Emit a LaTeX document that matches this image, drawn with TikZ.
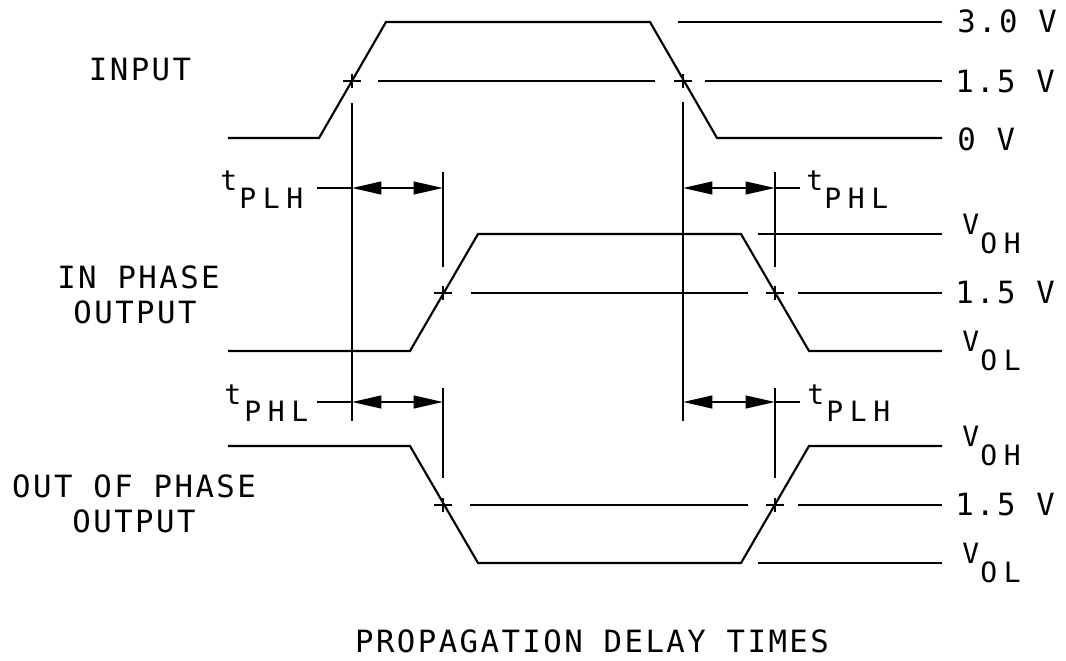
\documentclass[tikz,border=0pt]{standalone}
\usepackage{fontspec}
\usetikzlibrary{arrows.meta}
\newfontfamily\cadmain[LetterSpace=8]{DejaVu Sans Mono}
\newfontfamily\cadsub[LetterSpace=24]{DejaVu Sans Mono}
\newfontfamily\cadbase{DejaVu Sans Mono}
\begin{document}
\begin{tikzpicture}[x=0.75pt,y=-0.75pt,
  wave/.style={line width=1.6pt, line join=miter},
  ln/.style={line width=1.6pt},
  dimarrow/.style={line width=1.6pt,{Triangle[length=22pt,width=9.5pt]}-{Triangle[length=22pt,width=9.5pt]}},
  lbl/.style={inner sep=0pt, anchor=base, font={\cadmain\fontsize{23pt}{25pt}\selectfont}},
  rlbl/.style={inner sep=0pt, anchor=base west, font={\cadmain\fontsize{23pt}{25pt}\selectfont}},
  baselbl/.style={inner sep=0pt, anchor=base west, font={\cadbase\fontsize{21pt}{23pt}\selectfont}},
  sublbl/.style={inner sep=0pt, anchor=base west, font={\cadsub\fontsize{21pt}{23pt}\selectfont}},
  pluscross/.pic={\draw[line width=1.6pt] (-9,0)--(9,0) (0,-7)--(0,7);}
]
\useasboundingbox (0,0) rectangle (1066,660);

% ---------- INPUT ----------
\draw[wave] (228,138)--(319,138)--(386,22)--(650,22)--(717,138)--(942,138);
\draw[ln] (678,22)--(942,22);
\draw[ln] (378,81)--(655,81);
\draw[ln] (705,81)--(942,81);
\pic at (352,81) {pluscross};
\pic at (683,81) {pluscross};

% ---------- IN PHASE OUTPUT ----------
\draw[wave] (228,351)--(410,351)--(478,234)--(741,234)--(809,351)--(942,351);
\draw[ln] (758,234)--(942,234);
\draw[ln] (471,293)--(748,293);
\draw[ln] (798,293)--(942,293);
\pic at (443,293) {pluscross};
\pic at (775,293) {pluscross};

% ---------- OUT OF PHASE OUTPUT ----------
\draw[wave] (228,446)--(410,446)--(478,563)--(741,563)--(809,446)--(942,446);
\draw[ln] (758,563)--(942,563);
\draw[ln] (470,505)--(748,505);
\draw[ln] (798,505)--(942,505);
\pic at (443,505) {pluscross};
\pic at (775,505) {pluscross};

% ---------- reference verticals ----------
\draw[ln] (352,103)--(352,421);
\draw[ln] (683,102)--(683,421);
\draw[ln] (443,172)--(443,267);
\draw[ln] (443,388)--(443,478);
\draw[ln] (775,172)--(775,267);
\draw[ln] (775,388)--(775,478);

% ---------- dimension arrows ----------
\draw[ln] (317,188)--(352,188);
\draw[dimarrow] (352,188)--(443,188);
\draw[ln] (317,402)--(352,402);
\draw[dimarrow] (352,402)--(443,402);
\draw[dimarrow] (683,188)--(775,188);
\draw[ln] (775,188)--(800,188);
\draw[dimarrow] (683,402)--(775,402);
\draw[ln] (775,402)--(800,402);

% ---------- left labels ----------
\node[lbl] (tin) at (140,80) {INPUT};
\node[lbl] (tip1) at (138.5,288) {IN PHASE};
\node[lbl] (tip2) at (135,323) {OUTPUT};
\node[lbl] (top1) at (134,497) {OUT OF PHASE};
\node[lbl] (top2) at (134,532) {OUTPUT};
\node[lbl] (title) at (592,652) {PROPAGATION DELAY TIMES};

% ---------- right labels ----------
\node[rlbl] (l30) at (957,33) {3.0 V};
\node[rlbl] (l15a) at (955,92) {1.5 V};
\node[rlbl] (l0) at (957,150) {0 V};
\node[rlbl] (l15b) at (955,303) {1.5 V};
\node[rlbl] (l15c) at (955,515) {1.5 V};

\node[baselbl] (v1) at (962,234) {V};
\node[sublbl] (v1s) at (980,253) {OH};
\node[baselbl] (v2) at (962,351) {V};
\node[sublbl] (v2s) at (980,370) {OL};
\node[baselbl] (v3) at (962,446) {V};
\node[sublbl] (v3s) at (980,465) {OH};
\node[baselbl] (v4) at (962,563) {V};
\node[sublbl] (v4s) at (980,582) {OL};

% ---------- t labels ----------
\node[baselbl] (t1) at (220,190) {t};
\node[sublbl] (t1s) at (239,208) {PLH};
\node[baselbl] (t2) at (224,404) {t};
\node[sublbl] (t2s) at (244,421) {PHL};
\node[baselbl] (t3) at (806,190) {t};
\node[sublbl] (t3s) at (824,208) {PHL};
\node[baselbl] (t4) at (807,404) {t};
\node[sublbl] (t4s) at (826,421) {PLH};
\end{tikzpicture}
\end{document}
